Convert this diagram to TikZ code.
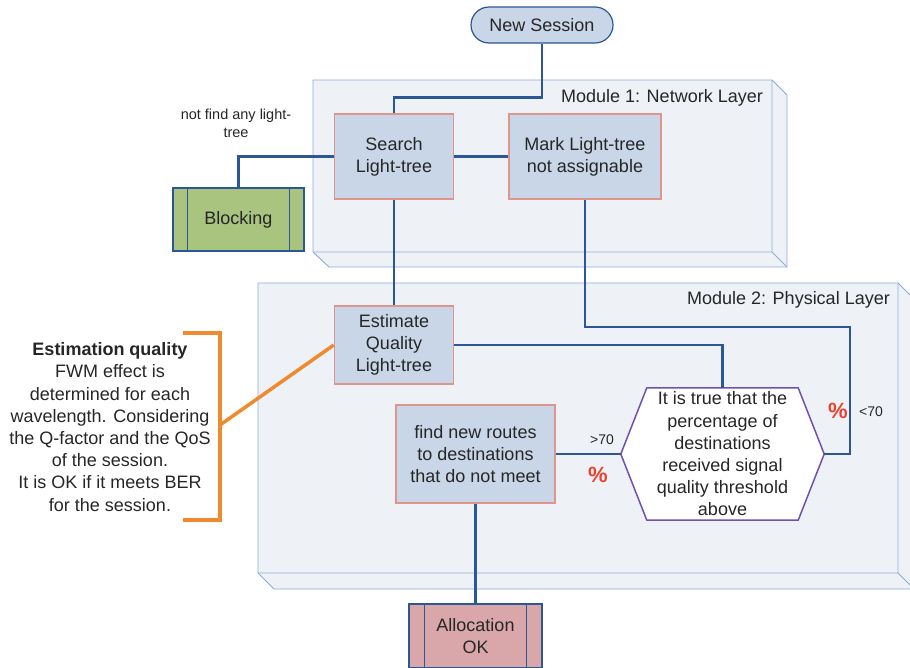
\documentclass[tikz,border=0pt]{standalone}
\usepackage{fontspec}
\setmainfont{Liberation Sans}
\definecolor{boxfill}{RGB}{200,214,232}
\definecolor{boxline}{RGB}{224,148,142}
\definecolor{navy}{RGB}{43,87,151}
\definecolor{modfill}{RGB}{238,242,247}
\definecolor{modline}{RGB}{142,170,214}
\definecolor{greenfill}{RGB}{169,196,127}
\definecolor{pinkfill}{RGB}{217,167,169}
\definecolor{hexline}{RGB}{112,80,176}
\definecolor{brace}{RGB}{240,138,46}
\definecolor{pct}{RGB}{232,67,45}
\definecolor{txt}{RGB}{38,38,38}
\tikzset{
  txtnode/.style={inner sep=0pt, align=center, text=txt, font=\fontsize{18}{22.2}\selectfont},
  procbox/.style={txtnode, draw=boxline, fill=boxfill, line width=1.5pt},
  termbox/.style={txtnode, draw=navy, line width=1.2pt},
  conn/.style={draw=navy, line width=2.4pt},
  module/.style={draw=modline, fill=modfill, line width=0.9pt, line join=round},
  small/.style={inner sep=0pt, align=center, text=txt, font=\fontsize{14.5}{18}\selectfont},
  pctlabel/.style={inner sep=0pt, text=pct, font=\fontsize{22}{22}\selectfont\bfseries}
}
\begin{document}
\begin{tikzpicture}[x=1pt,y=-1pt]
\useasboundingbox (0,0) rectangle (910,667);
\begin{scope}
\clip (0,0) rectangle (910,667);
% Module 1
\path[module] (313,80) -- (772,80) -- (787,95) -- (787,267) -- (329,267) -- (313,252) -- cycle;
\draw[modline, line width=0.9pt] (313,252) -- (772,252) -- (772,80) (772,252) -- (787,267);
% Module 2
\path[module] (258,283) -- (898,283) -- (914,299) -- (914,589) -- (274,589) -- (258,573) -- cycle;
\draw[modline, line width=0.9pt] (258,573) -- (898,573) -- (898,283) (898,573) -- (914,589);

\node[txtnode, anchor=east] (m1label) at (763,98) {Module 1: Network Layer};
\node[txtnode, anchor=east] (m2label) at (890,300) {Module 2: Physical Layer};

% Nodes
\node[termbox, fill=boxfill, rounded corners=18pt, minimum width=142pt, minimum height=36pt] (ns) at (542,25) {New Session};
\node[procbox, minimum width=119pt, minimum height=85pt] (search) at (394,156.5) {Search\\Light-tree};
\node[procbox, minimum width=152pt, minimum height=85pt] (mark) at (585,156.5) {Mark Light-tree\\not assignable};
\node[termbox, fill=greenfill, minimum width=131pt, minimum height=63pt] (blk) at (238.5,219.5) {Blocking};
\draw[navy, line width=1.2pt] ([xshift=15pt]blk.north west) -- ([xshift=15pt]blk.south west)
  ([xshift=-15pt]blk.north east) -- ([xshift=-15pt]blk.south east);
\node[small] (nofind) at (236,123) {not find any light-\\tree};

\node[procbox, minimum width=119pt, minimum height=78pt] (est) at (394,345) {Estimate\\Quality\\Light-tree};
\node[procbox, minimum width=159pt, minimum height=98pt] (find) at (475.5,454) {find new routes\\to destinations\\that do not meet};

\node[inner sep=0pt, minimum width=203pt, minimum height=132pt] (hex) at (722.5,454) {};
\filldraw[fill=white, draw=hexline, line width=1.5pt, line join=round]
  (hex.west) -- ([xshift=26pt]hex.north west) -- ([xshift=-26pt]hex.north east) -- (hex.east)
  -- ([xshift=-26pt]hex.south east) -- ([xshift=26pt]hex.south west) -- cycle;
\node[txtnode] (hextext) at (hex.center) {It is true that the\\percentage of\\destinations\\received signal\\quality threshold\\above};

\node[termbox, fill=pinkfill, minimum width=133pt, minimum height=64pt] (alloc) at (475.5,636) {Allocation\\OK};
\draw[navy, line width=1.2pt] ([xshift=16pt]alloc.north west) -- ([xshift=16pt]alloc.south west)
  ([xshift=-16pt]alloc.north east) -- ([xshift=-16pt]alloc.south east);

% Connectors
\draw[conn] (ns.south) -- ++(0,54) -| (search.north);
\draw[conn] (search.west) -| (blk.north);
\draw[conn] (search.east) -- (mark.west);
\draw[conn] (search.south) -- (est.north);
\draw[conn] (est.east) -| (hex.north);
\draw[conn] (hex.east) -- ++(26,0) -- ++(0,-127) -| (mark.south);
\draw[conn] (find.east) -- (hex.west);
\draw[conn] (find.south) -- (alloc.north);

% Labels on connectors
\node[small, font=\fontsize{14}{16}\selectfont] (gt) at (602,440) {>70};
\node[small, font=\fontsize{14}{16}\selectfont] (lt) at (871,412) {<70};
\node[pctlabel] (p1) at (598,475) {\%};
\node[pctlabel] (p2) at (838,411) {\%};

% Annotation
\coordinate (btop) at (183,333);
\coordinate (bbot) at (183,520);
\coordinate (btip) at (220,425);
\draw[brace, line width=3.5pt] (btop) -- (220,333) -- (220,520) -- (bbot);
\draw[brace, line width=3.5pt] (btip) -- (est.west);
\node[txtnode] (note) at (110,427) {\textbf{Estimation quality}\\FWM effect is\\determined for each\\wavelength. Considering\\the Q-factor and the QoS\\of the session.\\It is OK if it meets BER\\for the session.};
\end{scope}
\end{tikzpicture}
\end{document}
